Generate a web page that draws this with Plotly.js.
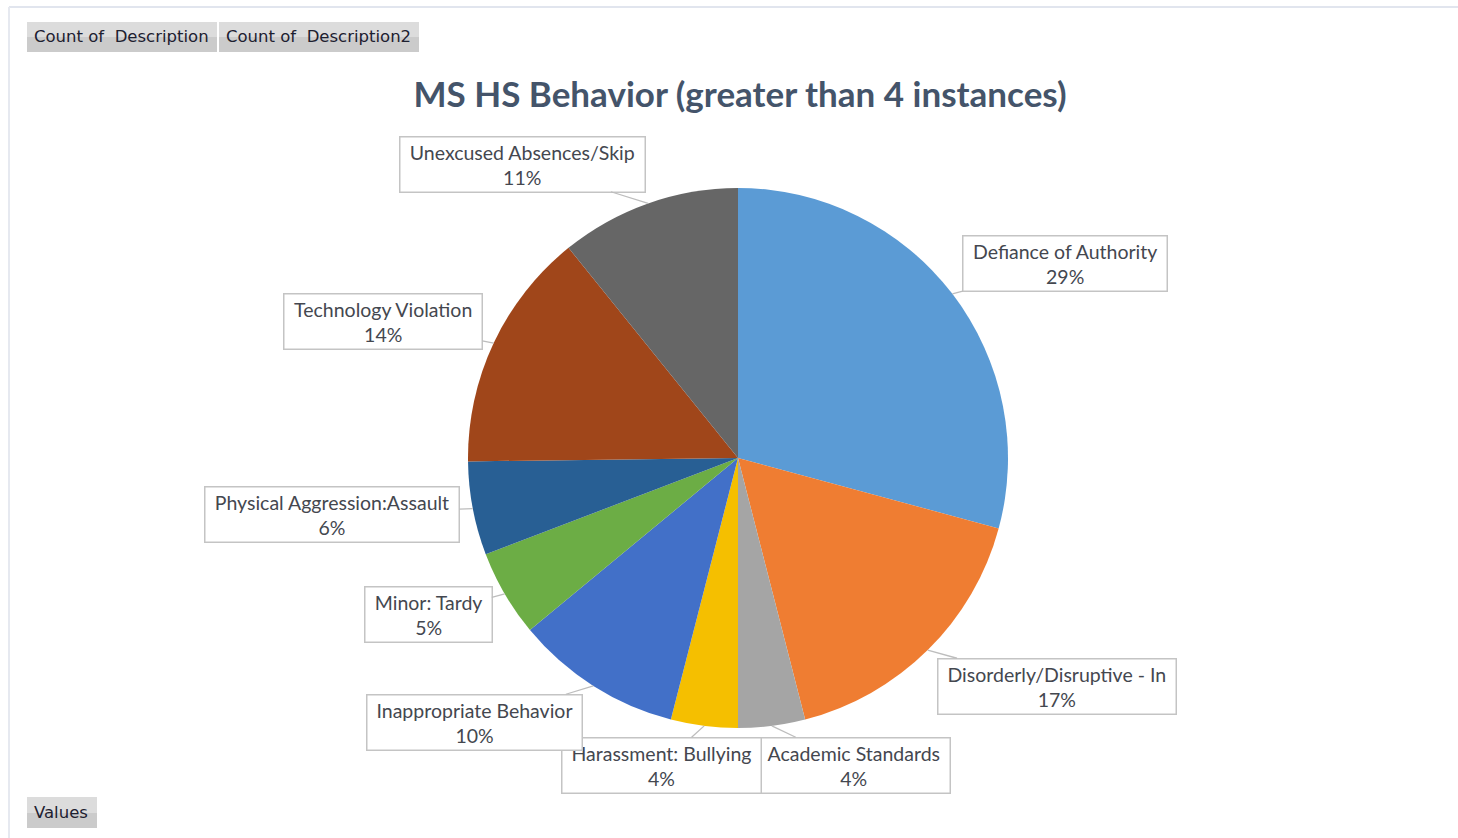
<!DOCTYPE html>
<html>
<head>
<meta charset="utf-8">
<script src="https://cdn.plot.ly/plotly-3.0.1.min.js"></script>
<style>
html,body{margin:0;padding:0;background:#fff;}
#chart{width:1458px;height:838px;}
</style>
</head>
<body>
<div id="chart"></div>
<script>
// ---- data ----
const categories = [
  "Defiance of Authority",
  "Disorderly/Disruptive - In",
  "Academic Standards",
  "Harassment: Bullying",
  "Inappropriate Behavior",
  "Minor: Tardy",
  "Physical Aggression:Assault",
  "Technology Violation",
  "Unexcused Absences/Skip"
];
const counts = [73, 42, 10, 10, 25, 13, 14, 36, 27];
const sliceColors = ["#5b9bd5", "#ef7d32", "#a5a5a5", "#f5bf00", "#4270c8", "#6cad45", "#285f94", "#a0461a", "#666666"];
const titleText = "MS HS Behavior (greater than 4 instances)";
const fieldButtons = ["Count of  Description", "Count of  Description2"];
const valuesButton = "Values";

// ---- layout constants (pixels) ----
const W = 1458, H = 838;
const CX = 738, CY = 458, R = 270;
// label box centers
const boxCenters = [
  [1065, 264], [1057, 686], [854, 765], [661, 765], [474, 722],
  [428, 614], [332, 514], [383, 322], [522, 164]
];
const px = x => x / W;
const py = y => 1 - y / H;

const labelFamily = "Lato, 'Open Sans', sans-serif";
const labelSize = 19.5;
const labelFont = {family: labelFamily, size: labelSize, color: "#44474f"};
const ctx = document.createElement("canvas").getContext("2d");
ctx.font = labelSize + "px Lato";
const measure = s => ctx.measureText(s).width;

function buildAnnotations() {
  const total = counts.reduce((a, b) => a + b, 0);
  let cum = 0;
  const annotations = [];
  counts.forEach((v, i) => {
    const mid = (cum + v / 2) / total;
    cum += v;
    const th = 2 * Math.PI * mid;
    const ex = CX + R * Math.sin(th);
    const ey = CY - R * Math.cos(th);
    const pct = Math.round(100 * v / total) + "%";
    const w = Math.max(measure(categories[i]), measure(pct)) + 12;
    annotations.push({
      xref: "paper", yref: "paper",
      x: px(ex), y: py(ey),
      ax: boxCenters[i][0] - ex, ay: boxCenters[i][1] - ey,
      showarrow: true, arrowhead: 0, arrowwidth: 1.3, arrowcolor: "#bdbdbd", standoff: 0,
      text: categories[i] + "<br>" + pct,
      font: labelFont,
      width: w,
      align: "center",
      bgcolor: "#ffffff",
      bordercolor: "#c4c4c4", borderwidth: 1.5, borderpad: 3
    });
  });
  return annotations;
}

// field buttons
const btnFont = {family: "'DejaVu Sans', Verdana, sans-serif", size: 16.5, color: "#1d2030"};
const btns = [
  {t: fieldButtons[0], x0: 27, x1: 217, y0: 22, y1: 52},
  {t: fieldButtons[1], x0: 219, x1: 419, y0: 22, y1: 52},
  {t: valuesButton, x0: 27, x1: 97, y0: 797, y1: 828}
];

function render() {
  const annotations = buildAnnotations();
  const shapes = [
    {type: "line", xref: "paper", yref: "paper", x0: px(9), x1: 1, y0: py(7), y1: py(7), line: {color: "#e1e5ee", width: 2}},
    {type: "line", xref: "paper", yref: "paper", x0: px(9), x1: px(9), y0: py(7), y1: 0, line: {color: "#e6e9f0", width: 2}}
  ];
  btns.forEach(b => {
    const ym = (b.y0 + b.y1) / 2;
    shapes.push({type: "rect", xref: "paper", yref: "paper", x0: px(b.x0), x1: px(b.x1), y0: py(ym), y1: py(b.y0),
      fillcolor: "#dcdcdc", line: {width: 0}, layer: "below"});
    shapes.push({type: "rect", xref: "paper", yref: "paper", x0: px(b.x0), x1: px(b.x1), y0: py(b.y1), y1: py(ym),
      fillcolor: "#cbcbcb", line: {width: 0}, layer: "below"});
    annotations.push({xref: "paper", yref: "paper", x: px(b.x0 + 5), y: py(ym),
      xanchor: "left", yanchor: "middle", showarrow: false, text: b.t, font: btnFont});
  });

  const trace = {
    type: "pie",
    labels: categories,
    values: counts,
    sort: false,
    direction: "clockwise",
    rotation: 0,
    textinfo: "none",
    textposition: "none",
    hoverinfo: "label+value+percent",
    marker: {colors: sliceColors, line: {color: "#ffffff", width: 0}},
    domain: {x: [px(CX - 300), px(CX + 300)], y: [py(CY + R), py(CY - R)]},
    showlegend: false
  };

  const layout = {
    width: W, height: H,
    margin: {l: 0, r: 0, t: 0, b: 0},
    paper_bgcolor: "#ffffff",
    plot_bgcolor: "#ffffff",
    title: {
      text: "<b>" + titleText + "</b>",
      x: px(740), xanchor: "center", y: py(95), yanchor: "middle",
      font: {family: "Lato, 'Open Sans', sans-serif", size: 35, color: "#44546a"}
    },
    showlegend: false,
    annotations: annotations,
    shapes: shapes
  };
  Plotly.newPlot("chart", [trace], layout, {displayModeBar: false, staticPlot: true});
}

document.fonts.load(labelSize + "px Lato").then(() => {
  ctx.font = labelSize + "px Lato";
  render();
}, render);
</script>
</body>
</html>
